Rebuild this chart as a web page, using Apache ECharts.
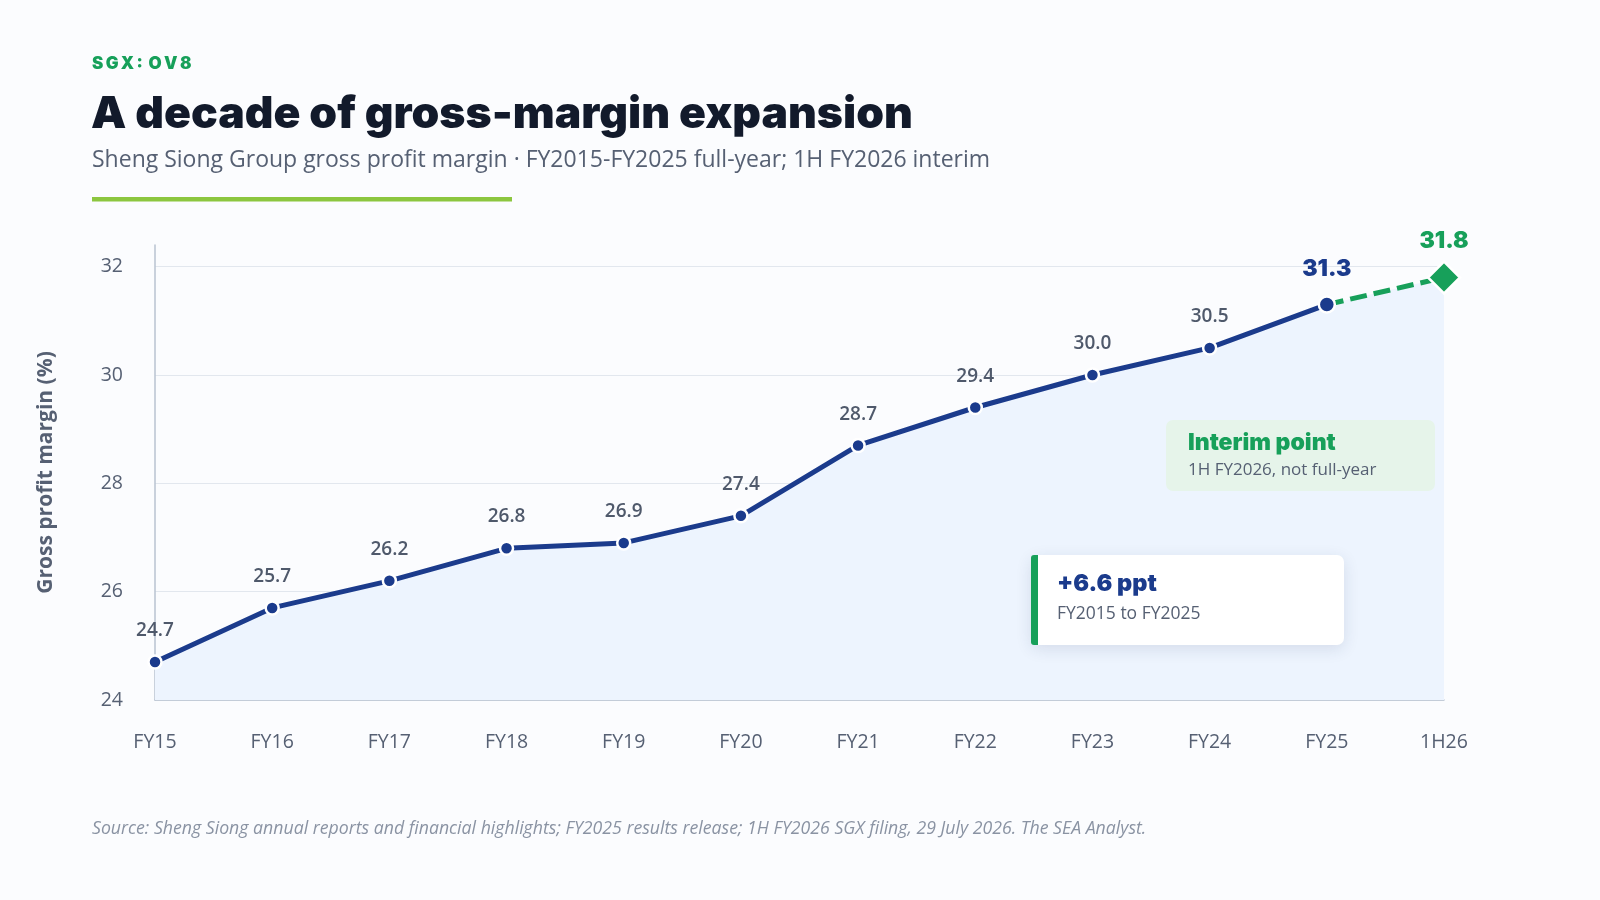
<!DOCTYPE html>
<html>
<head>
    <meta charset="utf-8">
    <title>Sheng Siong gross margin</title>
    <script src="https://cdn.jsdelivr.net/npm/echarts@6/dist/echarts.min.js"></script>
    <style>
        html, body { margin: 0; padding: 0; background: #fbfcfe; }
        #main { width: 1600px; height: 900px; }
    </style>
</head>
<body>
<div id="main"></div>
<script type="text/javascript">
    // data
    var periods = ['FY15', 'FY16', 'FY17', 'FY18', 'FY19', 'FY20', 'FY21', 'FY22', 'FY23', 'FY24', 'FY25', '1H26'];
    var fullYear = [24.7, 25.7, 26.2, 26.8, 26.9, 27.4, 28.7, 29.4, 30.0, 30.5, 31.3, null];
    var interim = [null, null, null, null, null, null, null, null, null, null, 31.3, 31.8];
    var allPoints = [24.7, 25.7, 26.2, 26.8, 26.9, 27.4, 28.7, 29.4, 30.0, 30.5, 31.3, 31.8];
    var yTicks = [24, 26, 28, 30, 32];

    var navy = '#1b3b8c';
    var green = '#17a05a';
    var gray = '#566073';
    var font = 'Lato, "Noto Sans", sans-serif';
    var bodyFont = '"Open Sans", Lato, sans-serif';
    var heavyFont = 'Inter, Lato, sans-serif';

    var myChart = echarts.init(document.getElementById('main'));

    // last full-year point and the interim point get their own styling
    var lineData = fullYear.map(function (v, i) {
        if (v === null) return null;
        if (i === 10) {
            return {
                value: v,
                symbolSize: 16,
                label: { color: navy, fontSize: 23, fontWeight: 900, fontFamily: heavyFont, distance: 15 }
            };
        }
        return v;
    });
    var dashData = interim.map(function (v, i) {
        if (v === null) return null;
        if (i === 11) {
            return {
                value: v,
                symbol: 'diamond',
                symbolSize: [32, 32],
                label: { show: true, color: green, fontSize: 23, fontWeight: 900, fontFamily: heavyFont, distance: 8 }
            };
        }
        return { value: v, symbol: 'none' };
    });

    var option = {
        backgroundColor: '#fbfcfe',
        textStyle: { fontFamily: font },
        animation: false,
        grid: { left: 155, right: 156, top: 245, bottom: 200 },
        xAxis: {
            type: 'category',
            data: periods,
            boundaryGap: false,
            axisLine: { lineStyle: { color: '#b9c3d1', width: 1.5 } },
            axisTick: { show: false },
            axisLabel: { color: gray, fontSize: 19.5, margin: 32, fontFamily: bodyFont }
        },
        yAxis: {
            type: 'value',
            min: yTicks[0],
            max: 32.4,
            interval: 2,
            name: 'Gross profit margin (%)',
            nameLocation: 'middle',
            nameGap: 98,
            nameTextStyle: { color: gray, fontSize: 21, fontWeight: 'bold', fontFamily: bodyFont },
            axisLine: { show: true, lineStyle: { color: '#b9c3d1', width: 1.5 } },
            axisTick: { show: false },
            axisLabel: {
                color: gray, fontSize: 19.5, margin: 32, fontFamily: bodyFont, showMaxLabel: false,
                formatter: function (v) { return yTicks.indexOf(v) >= 0 ? v : ''; }
            },
            splitLine: { showMaxLine: false, lineStyle: { color: '#e2e7ee', width: 1.2 } }
        },
        series: [
            {
                // shaded area under the whole run, drawn once so there is no seam
                name: 'Area',
                type: 'line',
                data: allPoints,
                z: 1,
                symbol: 'none',
                silent: true,
                lineStyle: { width: 0 },
                areaStyle: { color: '#edf4fe', opacity: 1 }
            },
            {
                name: 'Interim',
                type: 'line',
                data: dashData,
                z: 2,
                lineStyle: { color: green, width: 5, type: [17, 7] },
                itemStyle: { color: green, borderColor: '#ffffff', borderWidth: 2.5 },
                label: { show: false, position: 'top' }
            },
            {
                name: 'Gross profit margin',
                type: 'line',
                data: lineData,
                z: 3,
                symbol: 'circle',
                symbolSize: 13,
                lineStyle: { color: navy, width: 5 },
                itemStyle: { color: navy, borderColor: '#ffffff', borderWidth: 2.5 },
                label: {
                    show: true,
                    position: 'top',
                    distance: 14,
                    color: '#4f596b',
                    fontSize: 19,
                    fontWeight: 600,
                    fontFamily: bodyFont,
                    formatter: function (p) { return p.value.toFixed(1); }
                }
            }
        ],
        graphic: [
            {
                type: 'text', left: 92, top: 55,
                style: { text: 'S\u2009G\u2009X\u2009:\u2009 O\u2009V\u20098', fill: green, font: '900 17px ' + heavyFont }
            },
            {
                type: 'text', left: 91, top: 92,
                style: { text: 'A decade of gross-margin expansion', fill: '#121a2b', font: '900 44.5px ' + heavyFont }
            },
            {
                type: 'text', left: 92, top: 149,
                style: { text: 'Sheng Siong Group gross profit margin \u00b7 FY2015-FY2025 full-year; 1H FY2026 interim', fill: gray, font: '23px ' + bodyFont }
            },
            {
                type: 'rect', shape: { x: 92, y: 197, width: 420, height: 4.5 },
                style: { fill: '#8cc63f' }
            },
            // interim note
            {
                type: 'group', left: 1166, top: 420, z: 20,
                children: [
                    { type: 'rect', z: 20, shape: { x: 0, y: 0, width: 269, height: 71, r: 7 }, style: { fill: '#e6f4ea' } },
                    { type: 'text', z: 21, x: 22, y: 12, style: { text: 'Interim point', fill: green, font: '900 23px ' + heavyFont } },
                    { type: 'text', z: 21, x: 22, y: 42, style: { text: '1H FY2026, not full-year', fill: gray, font: '17px ' + bodyFont } }
                ]
            },
            // change note
            {
                type: 'group', left: 1031, top: 555, z: 20,
                children: [
                    {
                        type: 'rect', z: 20, shape: { x: 0, y: 0, width: 313, height: 90, r: 7 },
                        style: { fill: '#ffffff', shadowBlur: 16, shadowColor: 'rgba(30,50,90,0.12)', shadowOffsetY: 4 }
                    },
                    { type: 'rect', z: 21, shape: { x: 0, y: 0, width: 7, height: 90, r: [3, 0, 0, 3] }, style: { fill: green } },
                    { type: 'text', z: 21, x: 26, y: 17, style: { text: '+6.6 ppt', fill: navy, font: '900 23.5px ' + heavyFont } },
                    { type: 'text', z: 21, x: 26, y: 50, style: { text: 'FY2015 to FY2025', fill: gray, font: '17.5px ' + bodyFont } }
                ]
            },
            {
                type: 'text', left: 92, top: 820,
                style: {
                    text: 'Source: Sheng Siong annual reports and financial highlights; FY2025 results release; 1H FY2026 SGX filing, 29 July 2026. The SEA Analyst.',
                    fill: '#8a93a3', font: 'italic 17.7px ' + bodyFont
                }
            }
        ]
    };

    myChart.setOption(option);
</script>
</body>
</html>
